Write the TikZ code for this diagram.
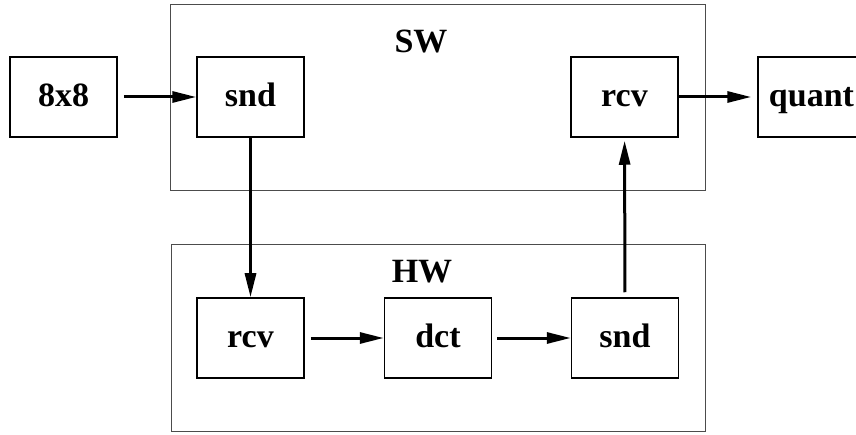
\documentclass[tikz,border=0pt]{standalone}
\usepackage{fontspec}
\setmainfont{Liberation Serif}
\usetikzlibrary{arrows.meta}
\begin{document}
\begin{tikzpicture}[x=1pt,y=-1pt,
  block/.style={draw=black,line width=1.5pt,minimum width=107pt,minimum height=80pt,
    inner sep=0pt,text height=20pt,text depth=0pt,
    font=\fontsize{34}{40}\selectfont\bfseries},
  region/.style={draw=black!70,line width=1pt},
  regionlabel/.style={inner sep=0pt,font=\fontsize{34}{40}\selectfont\bfseries},
  flow/.style={line width=3pt,-{Triangle[length=24pt,width=11pt]}}]
  \useasboundingbox (0,0) rectangle (856,435);
  % software and hardware partitions
  \draw[region] (170.5,4.5) rectangle (705.5,191);
  \draw[region] (171,245) rectangle (705.5,431);
  \node[regionlabel] (swlabel) at (421,42) {SW};
  \node[regionlabel] (hwlabel) at (422,272) {HW};
  % processing blocks
  \node[block] (in8)   at (63.5,97)  {8x8};
  \node[block] (swsnd) at (250.5,97) {snd};
  \node[block] (swrcv) at (624.5,97) {rcv};
  \node[block] (quant) at (811.5,97) {quant};
  \node[block] (hwrcv) at (250.5,338) {rcv};
  \node[block] (dct)   at (438,338)  {dct};
  \node[block] (hwsnd) at (625,338)  {snd};
  % data flow
  \draw[flow,shorten <=6pt] (in8) -- (swsnd);
  \draw[flow] (swsnd) -- (hwrcv);
  \draw[flow,shorten <=6pt] (hwrcv) -- (dct);
  \draw[flow,shorten <=5pt] (dct) -- (hwsnd);
  \draw[flow,shorten <=5pt,shorten >=3pt] (hwsnd) -- (swrcv);
  \draw[flow,shorten >=6pt] (swrcv) -- (quant);
\end{tikzpicture}
\end{document}
